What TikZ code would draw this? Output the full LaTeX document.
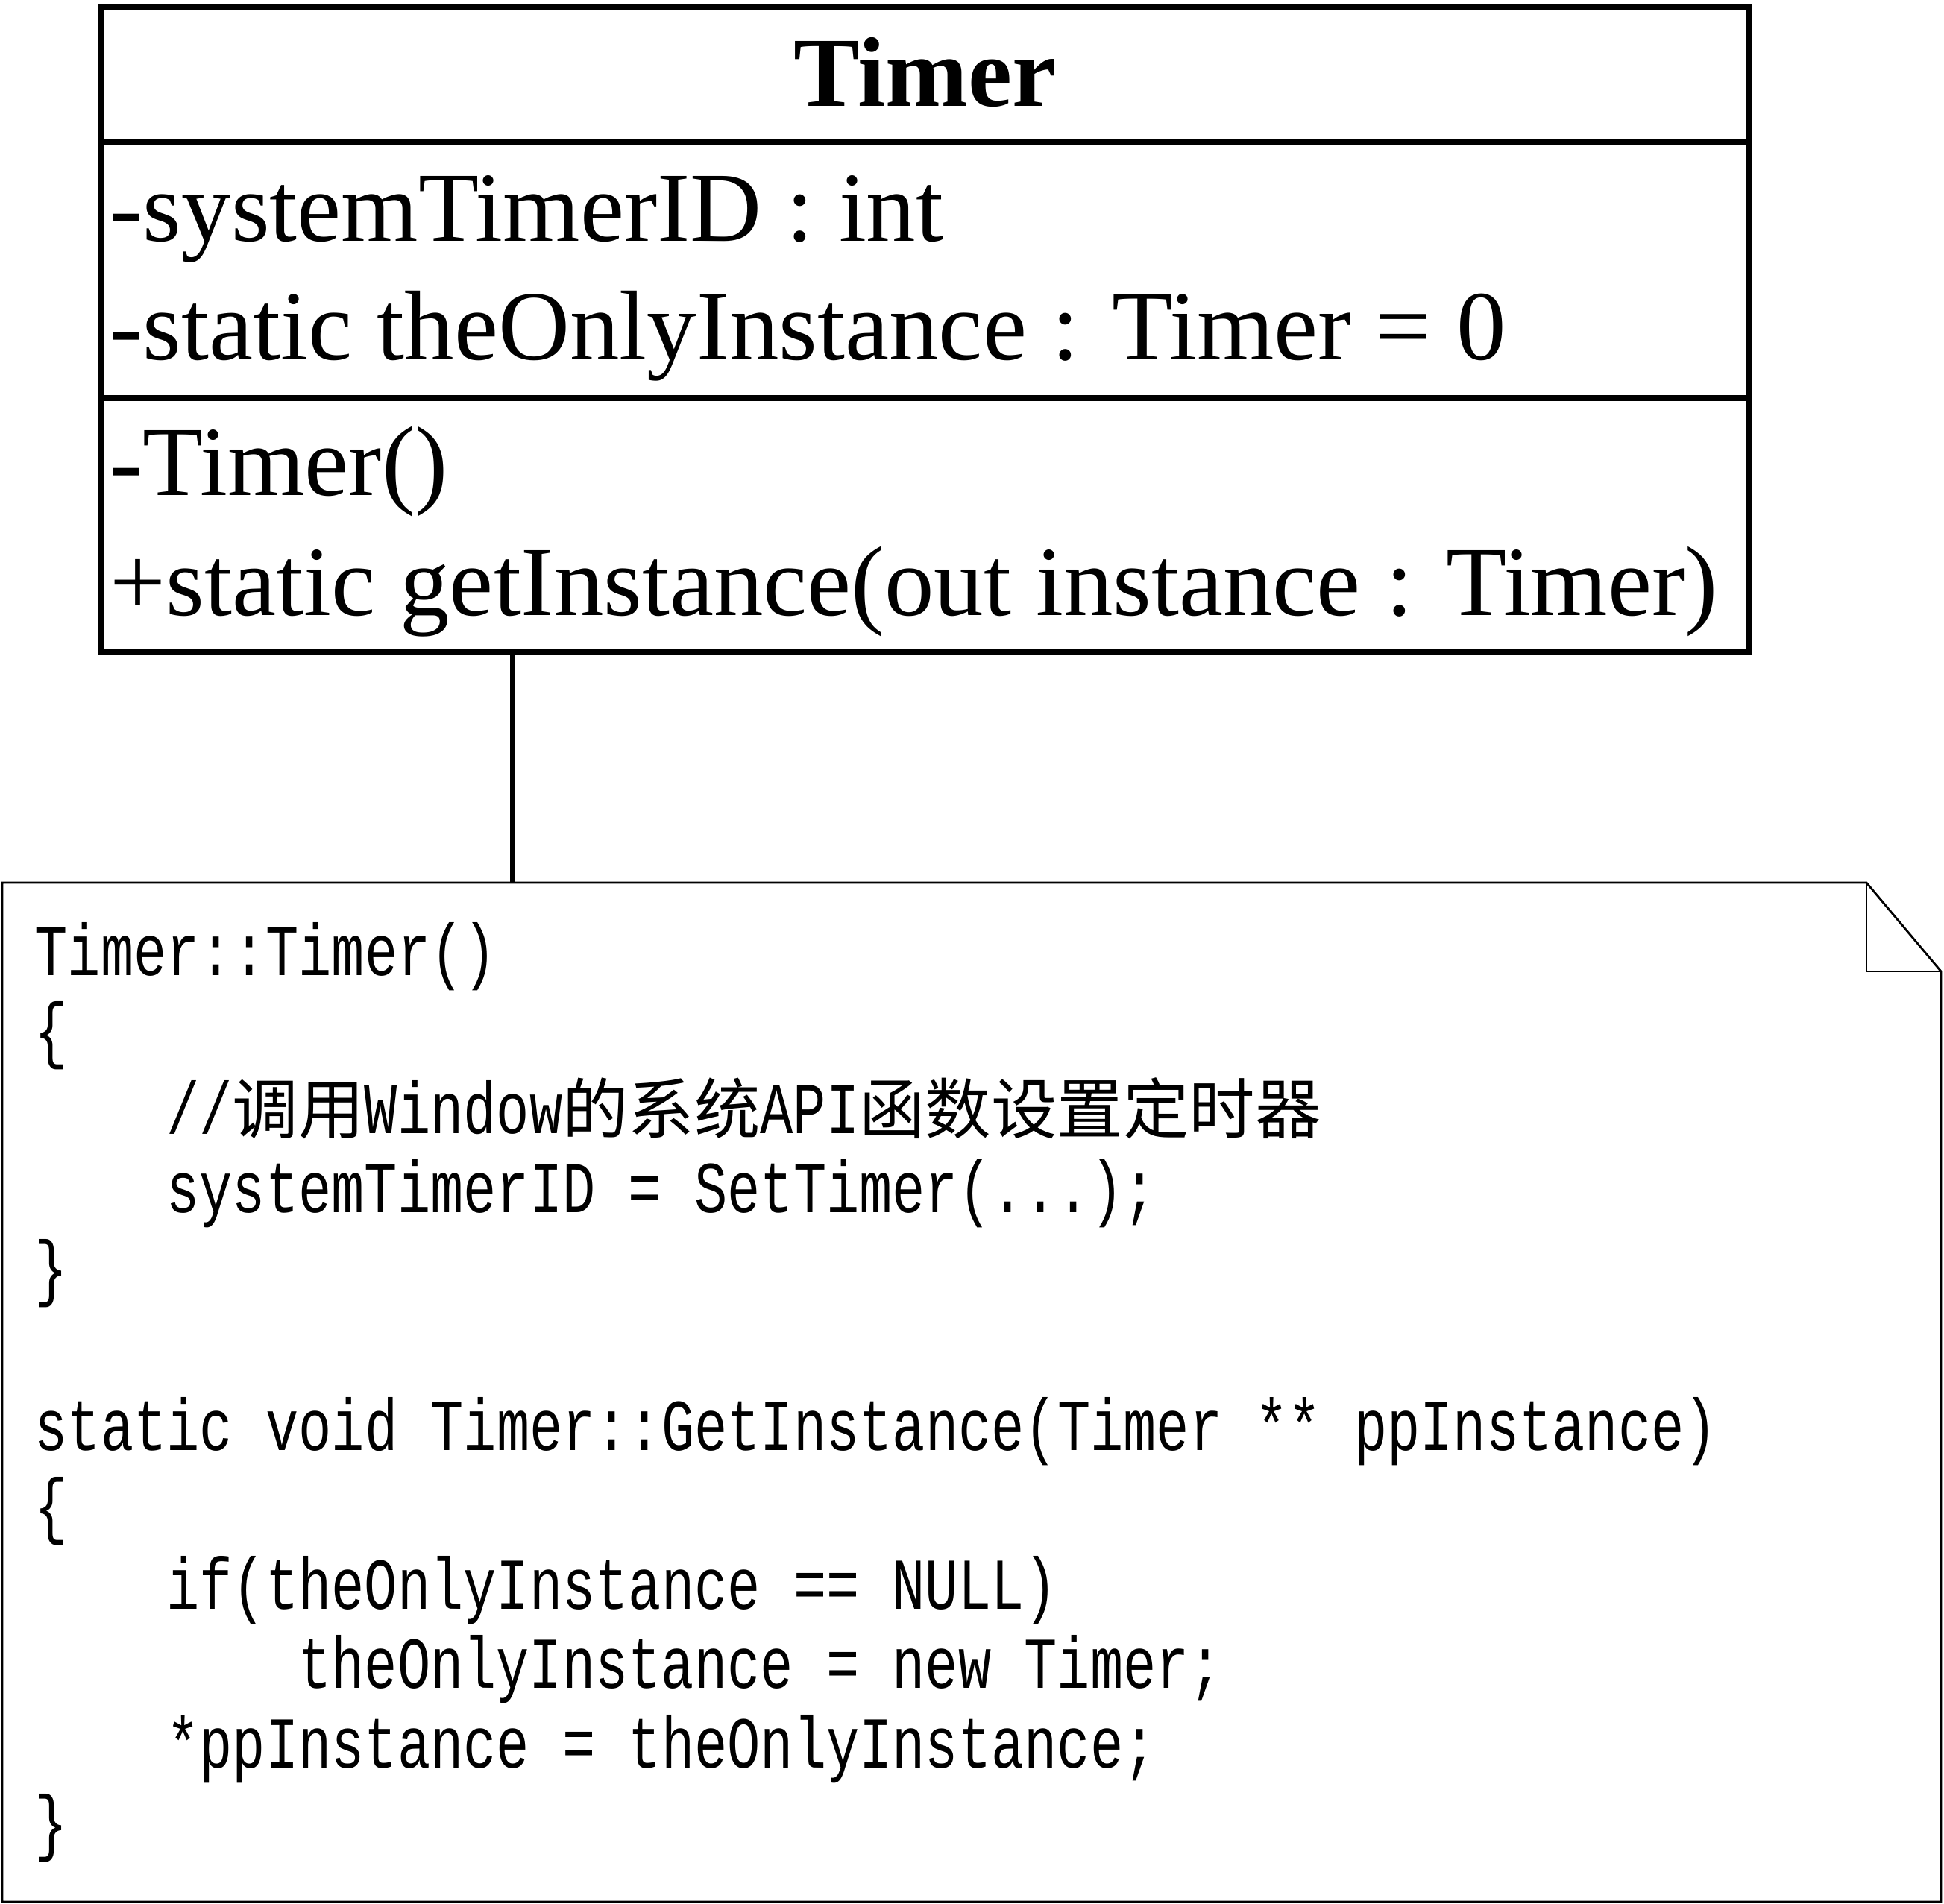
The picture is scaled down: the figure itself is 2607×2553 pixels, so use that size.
\documentclass[tikz,border=0pt]{standalone}
\usepackage{fontspec}
\setmainfont{Liberation Serif}
\newfontfamily\codefont[FakeStretch=0.752]{Liberation Mono}
\newfontfamily\cjkfont{Noto Sans CJK SC}
\newcommand{\classfont}{\fontsize{37.8pt}{40pt}\selectfont}
\newcommand{\codesize}{\codefont\fontsize{27.88pt}{30pt}\selectfont\frenchspacing}
\newcommand{\cjk}[1]{{\cjkfont\fontsize{25.15pt}{30pt}\selectfont #1}}
\begin{document}
\begin{tikzpicture}[x=0.01cm,y=-0.01cm,
  compart/.style={draw, line width=2.2pt, rectangle, inner sep=0pt, outer sep=0pt, anchor=north west, minimum width=22.09cm},
  classtext/.style={anchor=base west, inner sep=0pt, font=\classfont},
  titletext/.style={anchor=base, inner sep=0pt, font=\classfont\bfseries},
  codeline/.style={anchor=base west, inner sep=0pt, font=\codesize},
  notebox/.style={draw, line width=0.8pt, line join=miter},
  link/.style={draw, line width=1.9pt}
]
\useasboundingbox (0,0) rectangle (2607,2553);
\fill[white] (0,0) rectangle (2607,2553);

% class compartments
\node[compart, minimum height=1.82cm] (cname) at (136,9) {};
\node[compart, minimum height=3.43cm] (cattr) at (136,191) {};
\node[compart, minimum height=3.41cm] (cmeth) at (136,534) {};

\node[titletext] (title) at (1240,142) {Timer};
\node[classtext] (a1) at (147,323) {-systemTimerID : int};
\node[classtext] (a2) at (147,482) {-static theOnlyInstance : Timer = 0};
\node[classtext] (m1) at (147,664) {-Timer()};
\node[classtext] (m2) at (147,825) {+static getInstance(out instance : Timer)};

% note
\coordinate (nNW) at (3,1184);
\coordinate (nFold) at (2503,1184);
\coordinate (nFoldB) at (2503,1303);
\coordinate (nNE) at (2603,1303);
\coordinate (nSE) at (2603,2551);
\coordinate (nSW) at (3,2551);
\coordinate (nTop) at (687,1184);
\path[notebox] (nNW) -- (nFold) -- (nNE) -- (nSE) -- (nSW) -- cycle;
\path[notebox] (nFold) -- (nFoldB) -- (nNE);

% connector
\path[link] (cmeth.south -| nTop) -- (nTop);

% code text
\node[codeline] (c1) at (46,1308) {Timer::Timer()};
\node[codeline] (c2) at (46,1414.3) {\{};
\node[codeline] (c3) at (222.8,1520.6) {//\cjk{调用}Window\cjk{的系统}API\cjk{函数设置定时器}};
\node[codeline] (c4) at (222.8,1626.9) {systemTimerID = SetTimer(...);};
\node[codeline] (c5) at (46,1733.2) {\}};
\node[codeline] (c7) at (46,1945.8) {static void Timer::GetInstance(Timer ** ppInstance)};
\node[codeline] (c8) at (46,2052.1) {\{};
\node[codeline] (c9) at (222.8,2158.4) {if(theOnlyInstance == NULL)};
\node[codeline] (c10) at (399.6,2264.7) {theOnlyInstance = new Timer;};
\node[codeline] (c11) at (222.8,2371) {*ppInstance = theOnlyInstance;};
\node[codeline] (c12) at (46,2477.3) {\}};
\end{tikzpicture}
\end{document}
